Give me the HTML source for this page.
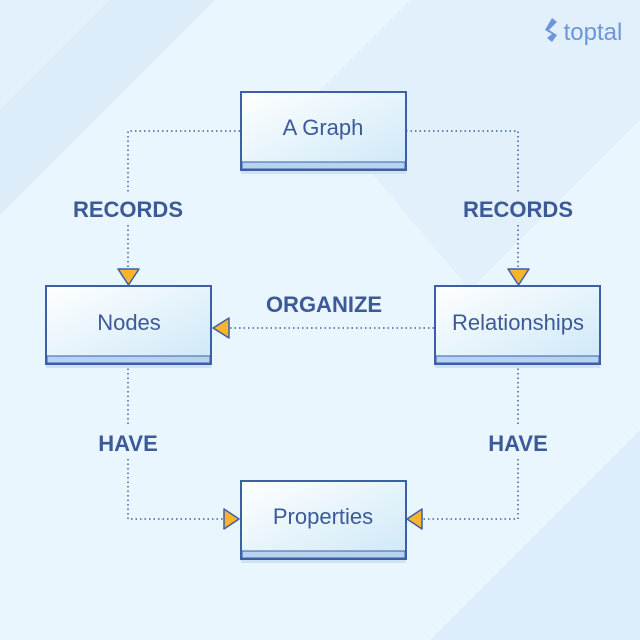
<!DOCTYPE html>
<html><head><meta charset="utf-8"><style>
html,body{margin:0;padding:0;}
body{width:640px;height:640px;overflow:hidden;background:#eaf6fd;}
svg{display:block}
text{font-family:"Liberation Sans",sans-serif;}
</style></head><body>
<svg width="640" height="640" viewBox="0 0 640 640">
<defs>
<linearGradient id="bx" x1="0" y1="0" x2="1" y2="1">
<stop offset="0" stop-color="#ffffff"/><stop offset="1" stop-color="#cde8f7"/>
</linearGradient>
</defs>
<rect width="640" height="640" fill="#eaf6fd"/>
<polygon points="0,0 215,0 0,215" fill="#dcecf9"/>
<polygon points="0,0 110,0 0,110" fill="#e2f1fb"/>
<polygon points="410,0 640,0 640,120 470,290 310,100" fill="#e1f0fb"/>
<polygon points="640,430 640,640 430,640" fill="#ddeefa"/>
<g stroke="#3c5fa6" stroke-width="1.5" stroke-dasharray="1.5,3" fill="none">
<path d="M240,131 H128 V193 M128,225 V268"/>
<path d="M406,131 H518 V193 M518,225 V268"/>
<path d="M434,328 H229"/>
<path d="M128,364 V427 M128,459 V519 H223"/>
<path d="M518,364 V427 M518,459 V519 H423"/>
</g>
<g fill="url(#bx)" stroke="#3c5fa6" stroke-width="2">
<rect x="241" y="92" width="165" height="78"/>
<rect x="46" y="286" width="165" height="78"/>
<rect x="435" y="286" width="165" height="78"/>
<rect x="241" y="481" width="165" height="78"/>
</g>
<g fill="#b7d3ef" stroke="#3c5fa6" stroke-width="1">
<rect x="242" y="162" width="163" height="7"/>
<rect x="47" y="356" width="163" height="7"/>
<rect x="436" y="356" width="163" height="7"/>
<rect x="242" y="551" width="163" height="7"/>
</g>
<g fill="#cfe3f5">
<rect x="241" y="171" width="165" height="3"/>
<rect x="46" y="365" width="165" height="3"/>
<rect x="435" y="365" width="165" height="3"/>
<rect x="241" y="560" width="165" height="3"/>
</g>
<g fill="#f8b52b" stroke="#3c5fa6" stroke-width="1.5" stroke-linejoin="round">
<polygon points="118,269 139,269 128.5,285"/>
<polygon points="508,269 529,269 518.5,285"/>
<polygon points="213,328 229,318 229,338"/>
<polygon points="239,519 224,509 224,529"/>
<polygon points="407,519 422,509 422,529"/>
</g>
<g fill="#3d5a98" font-size="22" text-anchor="middle">
<text x="323" y="135">A Graph</text>
<text x="129" y="330">Nodes</text>
<text x="518" y="330">Relationships</text>
<text x="323" y="524">Properties</text>
</g>
<g fill="#3d5a98" font-size="22" font-weight="bold" text-anchor="middle">
<text x="128" y="217">RECORDS</text>
<text x="518" y="217">RECORDS</text>
<text x="324" y="312">ORGANIZE</text>
<text x="128" y="451">HAVE</text>
<text x="518" y="451">HAVE</text>
</g>
<g fill="#6d95dc">
<polygon points="552,18 557,22 549,30 557,35 552,42 547,38 552,34 545,30"/>
<text x="593" y="40" font-size="24" text-anchor="middle">toptal</text>
</g>
</svg>
</body></html>
